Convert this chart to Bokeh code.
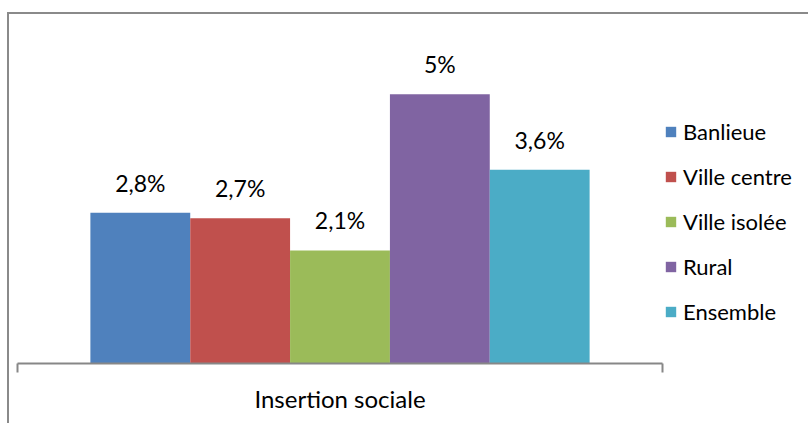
from bokeh.plotting import figure
from bokeh.models import (Range1d, LinearAxis, FixedTicker, ColumnDataSource,
                          InlineStyleSheet)
from bokeh.embed import file_html
from bokeh.resources import INLINE
from bokeh.core.properties import value

# ---- data ----
category = "Insertion sociale"
series = ["Banlieue", "Ville centre", "Ville isolée", "Rural", "Ensemble"]
values = [2.8, 2.7, 2.1, 5.0, 3.6]
colors = ["#4F81BD", "#C0504D", "#9BBB59", "#8064A2", "#4BACC6"]
y_max = 6

n = len(series)
xpos = list(range(n))
pad = 0.73
x_start, x_end = -0.5 - pad, n - 0.5 + pad
x_center = (x_start + x_end) / 2
# the frame also spans the legend area on the right (146 px of 645 px for the category)
legend_extra = (x_end - x_start) * 146 / 645

labels = [f"{v:g}".replace(".", ",") + "%" for v in values]
src = ColumnDataSource(dict(x=xpos, series=series, values=values, colors=colors, labels=labels))

FONT = "Lato"
GRAY = "#878787"

frame_css = InlineStyleSheet(css="""
:host::after {
  content: "";
  position: fixed;
  left: 7px; top: 12px; right: 0px; bottom: 0px;
  border-left: 2px solid #8a8a8a;
  border-top: 2px solid #8a8a8a;
  pointer-events: none;
}
""")

p = figure(width=808, height=423, output_backend="svg", toolbar_location=None,
           x_range=Range1d(x_start, x_end + legend_extra), y_range=Range1d(0, y_max),
           x_axis_location=None, y_axis_location=None,
           min_border_left=17, min_border_right=0, min_border_top=40, min_border_bottom=60,
           stylesheets=[frame_css])
p.grid.visible = False
p.outline_line_color = None
p.background_fill_color = "white"
p.border_fill_color = "white"

ax = LinearAxis(ticker=FixedTicker(ticks=[x_center], minor_ticks=[x_start, x_end]),
                bounds=(x_start, x_end),
                major_label_overrides={x_center: category},
                major_label_text_font=FONT, major_label_text_font_size="24px",
                major_label_text_color="black", major_label_standoff=11,
                major_tick_in=0, major_tick_out=0, minor_tick_in=0, minor_tick_out=9,
                axis_line_color=GRAY, axis_line_width=2,
                major_tick_line_color=None,
                minor_tick_line_color=GRAY, minor_tick_line_width=2)
p.add_layout(ax, "below")

bars = p.vbar(x="x", top="values", width=1.0, fill_color="colors", line_color=None,
              source=src, legend_field="series")

p.text(x="x", y="values", text="labels", source=src, text_align="center",
       text_baseline="alphabetic", y_offset=-30, text_font=value(FONT),
       text_font_size="23px", text_color="black")

lg = p.legend[0]
lg.location = (647, 38)
lg.orientation = "vertical"
lg.padding = 0
lg.margin = 0
lg.border_line_color = None
lg.background_fill_alpha = 0
lg.glyph_width = 13
lg.glyph_height = 13
lg.label_height = 24
lg.spacing = 18
lg.label_standoff = 6
lg.label_text_font = FONT
lg.label_text_font_size = "22px"
lg.label_text_color = "black"

open("out.html", "w").write(file_html(p, INLINE))
